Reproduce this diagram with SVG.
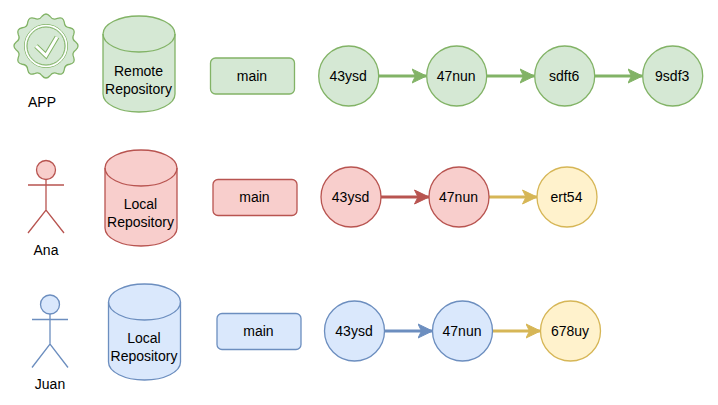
<svg xmlns="http://www.w3.org/2000/svg" width="718" height="405" viewBox="0 0 718 405">
<style>
text{font-family:"Liberation Sans",Arial,sans-serif;font-size:14px;fill:#000;text-anchor:middle}
.g{fill:#d5e8d4;stroke:#82b366}
.r{fill:#f8cecc;stroke:#b85450}
.b{fill:#dae8fc;stroke:#6c8ebf}
.y{fill:#fff2cc;stroke:#d6b656}
.g,.r,.b,.y{stroke-width:1.3}
.n{fill:none}
.a{fill:none;stroke-width:3}
</style>
<defs>
<marker id="mg" markerUnits="userSpaceOnUse" markerWidth="16" markerHeight="16" refX="15" refY="8" orient="auto"><path d="M0.500 1L15 8L0.500 15L4 8Z" fill="#82b366" stroke="#82b366"/></marker>
<marker id="mr" markerUnits="userSpaceOnUse" markerWidth="16" markerHeight="16" refX="15" refY="8" orient="auto"><path d="M0.500 1L15 8L0.500 15L4 8Z" fill="#b85450" stroke="#b85450"/></marker>
<marker id="mb" markerUnits="userSpaceOnUse" markerWidth="16" markerHeight="16" refX="15" refY="8" orient="auto"><path d="M0.500 1L15 8L0.500 15L4 8Z" fill="#6c8ebf" stroke="#6c8ebf"/></marker>
<marker id="my" markerUnits="userSpaceOnUse" markerWidth="16" markerHeight="16" refX="15" refY="8" orient="auto"><path d="M0.500 1L15 8L0.500 15L4 8Z" fill="#d6b656" stroke="#d6b656"/></marker>
</defs>
<g id="connectors">
<path class="a" stroke="#82b366" marker-end="url(#mg)" d="M379 76H426.500"/>
<path class="a" stroke="#82b366" marker-end="url(#mg)" d="M487 76H534.500"/>
<path class="a" stroke="#82b366" marker-end="url(#mg)" d="M595 76H642.500"/>
<path class="a" stroke="#b85450" marker-end="url(#mr)" d="M381 197H429"/>
<path class="a" stroke="#d6b656" marker-end="url(#my)" d="M489 197H537"/>
<path class="a" stroke="#6c8ebf" marker-end="url(#mb)" d="M384.500 331H432.500"/>
<path class="a" stroke="#d6b656" marker-end="url(#my)" d="M492.500 331H540.500"/>
</g>
<g id="app">
<g transform="translate(46 46)">
<path class="g" d="M-3.92 -29.74Q0 -34.3 3.92 -29.74Q6.81 -25.4 11.48 -27.72Q17.15 -29.7 18.26 -23.8Q18.6 -18.6 23.8 -18.26Q29.7 -17.15 27.72 -11.48Q25.4 -6.81 29.74 -3.92Q34.3 0 29.74 3.92Q25.4 6.81 27.72 11.48Q29.7 17.15 23.8 18.26Q18.6 18.6 18.26 23.8Q17.15 29.7 11.48 27.72Q6.81 25.4 3.92 29.74Q0 34.3 -3.92 29.74Q-6.81 25.4 -11.48 27.72Q-17.15 29.7 -18.26 23.8Q-18.6 18.6 -23.8 18.26Q-29.7 17.15 -27.72 11.48Q-25.4 6.81 -29.74 3.92Q-34.3 0 -29.74 -3.92Q-25.4 -6.81 -27.72 -11.48Q-29.7 -17.15 -23.8 -18.26Q-18.6 -18.6 -18.26 -23.8Q-17.15 -29.7 -11.48 -27.72Q-6.81 -25.4 -3.92 -29.74Z"/>
<circle r="21.500" fill="none" stroke="#82b366" stroke-width="1"/>
<circle r="20.500" fill="none" stroke="#fff" stroke-width="1.500"/>
<circle r="19" fill="none" stroke="#82b366" stroke-width="1"/>
<path d="M-10 0L0 9.500L11 -9" fill="none" stroke="#82b366" stroke-width="5"/>
<path d="M-10 0L0 9.500L11 -9" fill="none" stroke="#fff" stroke-width="3"/>
</g>
<text x="42" y="107">APP</text>
</g>
<g id="remote-repository">
<path class="g" d="M103 34C103 24 119 16 139 16C159 16 175 24 175 34V94C175 104 159 112 139 112C119 112 103 104 103 94Z"/>
<path class="g n" d="M103 34C103 44 119 52 139 52C159 52 175 44 175 34"/>
<text x="138.500" y="76">Remote</text><text x="138.500" y="94">Repository</text>
</g>
<g id="main-green"><rect class="g" x="210.500" y="58" width="84" height="36" rx="5"/><text x="252" y="81">main</text></g>
<g id="g1"><circle class="g" cx="348.700" cy="76" r="30"/><text x="348.200" y="81">43ysd</text></g>
<g id="g2"><circle class="g" cx="456.700" cy="76" r="30"/><text x="456.200" y="81">47nun</text></g>
<g id="g3"><circle class="g" cx="564.700" cy="76" r="30"/><text x="564.200" y="81">sdft6</text></g>
<g id="g4"><circle class="g" cx="672.700" cy="76" r="30"/><text x="672.200" y="81">9sdf3</text></g>

<g id="ana">
<circle class="r" cx="46" cy="170" r="9.500"/>
<path class="r n" d="M46 179.500V210M28 185H64M28 233L46 210L64 233"/>
<text x="46" y="255">Ana</text>
</g>
<g id="local-repository-ana">
<path class="r" d="M105 168C105 158 121 150 141 150C161 150 177 158 177 168V228C177 238 161 246 141 246C121 246 105 238 105 228Z"/>
<path class="r n" d="M105 168C105 178 121 186 141 186C161 186 177 178 177 168"/>
<text x="140.500" y="209">Local</text><text x="140.500" y="227">Repository</text>
</g>
<g id="main-red"><rect class="r" x="213" y="179.500" width="84" height="36" rx="5"/><text x="254.500" y="202">main</text></g>
<g id="r1"><circle class="r" cx="351" cy="197" r="30"/><text x="350.500" y="202">43ysd</text></g>
<g id="r2"><circle class="r" cx="459" cy="197" r="30"/><text x="458.500" y="202">47nun</text></g>
<g id="r3"><circle class="y" cx="567" cy="197" r="30"/><text x="566.500" y="202">ert54</text></g>

<g id="juan">
<circle class="b" cx="50" cy="304.500" r="9.500"/>
<path class="b n" d="M50 314V344M32 319.500H68M32 367.500L50 344L68 367.500"/>
<text x="50" y="389">Juan</text>
</g>
<g id="local-repository-juan">
<path class="b" d="M108.500 302C108.500 292 124.500 284 144.500 284C164.500 284 180.500 292 180.500 302V362C180.500 372 164.500 380 144.500 380C124.500 380 108.500 372 108.500 362Z"/>
<path class="b n" d="M108.500 302C108.500 312 124.500 320 144.500 320C164.500 320 180.500 312 180.500 302"/>
<text x="144" y="343">Local</text><text x="144" y="361">Repository</text>
</g>
<g id="main-blue"><rect class="b" x="217" y="313.500" width="84" height="36" rx="5"/><text x="258.500" y="336">main</text></g>
<g id="b1"><circle class="b" cx="354.500" cy="331" r="30"/><text x="354" y="336">43ysd</text></g>
<g id="b2"><circle class="b" cx="462.500" cy="331" r="30"/><text x="462" y="336">47nun</text></g>
<g id="b3"><circle class="y" cx="570.500" cy="331" r="30"/><text x="570" y="336">678uy</text></g>
</svg>
